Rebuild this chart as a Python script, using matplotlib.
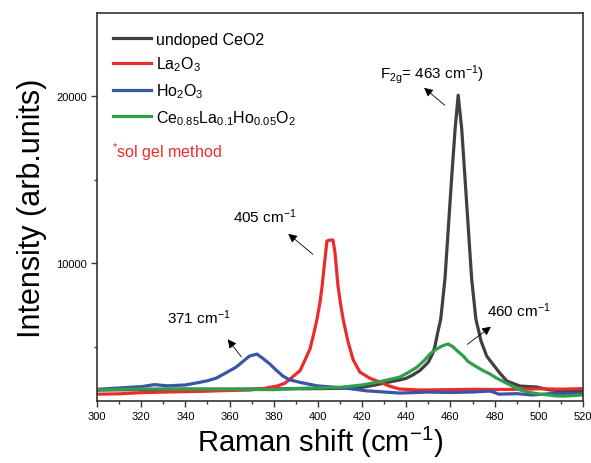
import matplotlib
matplotlib.use('Agg')
import matplotlib.pyplot as plt

plt.rcParams['font.family'] = ['Liberation Sans', 'DejaVu Sans']
plt.rcParams['mathtext.fontset'] = 'custom'
plt.rcParams['mathtext.rm'] = 'Liberation Sans'
plt.rcParams['mathtext.it'] = 'Liberation Sans:italic'
plt.rcParams['mathtext.bf'] = 'Liberation Sans:bold'
plt.rcParams['mathtext.default'] = 'regular'

# Raman shift (cm-1) and intensity
x_ceo2 = [300, 320, 340, 360, 380, 400, 410, 420, 426, 432, 437, 440, 443, 446, 448, 450,
          452, 453, 454, 455.6, 457.5, 459, 460.5, 462.1, 463.5, 465.1, 466.6, 468.1, 469.6,
          471.5, 473.8, 476.4, 478, 482, 485.5, 491.5, 499, 505, 512, 520]
y_ceo2 = [2400, 2420, 2450, 2450, 2470, 2480, 2500, 2560, 2700, 2870, 3000, 3100, 3300, 3550,
          3800, 4070, 4600, 5030, 5700, 6650, 9040, 12040, 15030, 18020, 20050, 18020, 15030,
          12040, 9040, 6650, 5350, 4430, 4150, 3470, 2935, 2635, 2575, 2400, 2340, 2330]

x_la = [300, 310, 320, 330, 340, 350, 360, 369, 375, 381.5, 385, 387.4, 390, 391.9, 394,
        396.4, 398, 399.6, 401, 401.9, 403.2, 404.1, 405.5, 406.8, 407.7, 409.1, 410.2, 411.4,
        413.6, 416, 419, 423.6, 428, 432, 437, 446, 460, 470, 480, 490, 500, 510, 520]
y_la = [2150, 2170, 2240, 2275, 2300, 2330, 2370, 2395, 2480, 2635, 2800, 3055, 3350, 3550,
        4150, 4850, 5700, 6650, 7700, 8620, 10240, 11320, 11380, 11380, 10660, 8620, 7600,
        6650, 5300, 4200, 3470, 3100, 2875, 2650, 2455, 2400, 2420, 2440, 2430, 2440, 2470,
        2450, 2480]

x_ho = [300, 310, 320, 326, 332, 340, 345, 350, 354, 358, 363, 366, 369, 372.4, 375, 378.3,
        381, 384.2, 387, 391.9, 399.6, 406.8, 414.5, 422, 437, 450, 460, 470, 478, 482, 490,
        497, 505, 512, 520]
y_ho = [2440, 2520, 2600, 2720, 2650, 2700, 2820, 2950, 3110, 3400, 3770, 4100, 4430, 4550,
        4300, 3950, 3600, 3230, 3020, 2856, 2650, 2575, 2480, 2350, 2215, 2275, 2250, 2280,
        2335, 2150, 2180, 2100, 2180, 2200, 2200]

x_mix = [300, 310, 320, 340, 360, 380, 391.9, 400, 410, 420, 428, 437, 441, 444.9, 448,
         450.7, 453, 455.3, 457, 459, 461, 463, 465.8, 468, 471, 474.9, 478, 481, 484, 487,
         489, 491.5, 495, 500.5, 505, 508, 512, 518.7, 520]
y_mix = [2395, 2440, 2455, 2460, 2440, 2420, 2500, 2520, 2556, 2700, 2895, 3170, 3450, 3770,
         4150, 4550, 4800, 4970, 5080, 5150, 5000, 4750, 4430, 4100, 3850, 3550, 3350, 3100,
         2900, 2700, 2575, 2400, 2275, 2150, 2095, 2040, 2035, 2095, 2100]

fig = plt.figure(figsize=(5.91, 4.64), dpi=100)
ax = fig.add_axes([0.1641, 0.1336, 0.8224, 0.8362])

lw = 2.3
ax.plot(x_ceo2, y_ceo2, color='#404040', lw=lw, label='undoped CeO2')
ax.plot(x_la, y_la, color='#ec2c2c', lw=lw, label='La$_2$O$_3$')
ax.plot(x_ho, y_ho, color='#3b55a6', lw=lw, label='Ho$_2$O$_3$')
ax.plot(x_mix, y_mix, color='#2e9f4a', lw=lw,
        label='Ce$_{0.85}$La$_{0.1}$Ho$_{0.05}$O$_2$')

ax.set_xlim(300, 520)
ax.set_ylim(1740, 24970)
ax.set_xticks(range(300, 521, 20))
ax.set_xticks(range(310, 520, 20), minor=True)
ax.set_yticks([10000, 20000])
ax.set_yticks([5000, 15000], minor=True)
ax.tick_params(which='major', direction='out', length=4, width=1, labelsize=8, pad=3,
               color='#333333')
ax.tick_params(which='minor', direction='out', length=2.5, width=1, color='#333333')
for s in ax.spines.values():
    s.set_linewidth(1.2)
    s.set_color('#333333')

ax.set_xlabel('Raman shift (cm$^{-1}$)', fontsize=21)
ax.xaxis.set_label_coords(0.46, -0.058)
ax.set_ylabel('Intensity (arb.units)', fontsize=22, labelpad=7)

leg = ax.legend(loc='upper left', bbox_to_anchor=(0.032, 0.952), frameon=False,
                fontsize=11.5, handlelength=2.4, handletextpad=0.3, labelspacing=0.5,
                borderpad=0, borderaxespad=0)

ax.text(0.03, 0.645, '$^{*}$sol gel method', transform=ax.transAxes, color='#ec2c2c',
        fontsize=11.5, va='center', ha='left')

# peak labels with arrows
arrow = dict(arrowstyle='-|>', color='black', lw=0.6, mutation_scale=13)
ax.annotate('', xy=(447.1, 20600), xytext=(458.4, 19340), arrowprops=arrow)
ax.text(428.1, 21078, 'F$_{2g}$= 463 cm$^{-1}$)', fontsize=11, va='baseline', ha='left')
ax.annotate('', xy=(385.6, 11856), xytext=(398.7, 10420), arrowprops=arrow)
ax.text(361.6, 12455, '405 cm$^{-1}$', fontsize=11, va='baseline', ha='left')
ax.annotate('', xy=(358.4, 5569), xytext=(366.1, 4251), arrowprops=arrow)
ax.text(331.7, 6407, '371 cm$^{-1}$', fontsize=11, va='baseline', ha='left')
ax.annotate('', xy=(479.3, 6287), xytext=(466.6, 5030), arrowprops=arrow)
ax.text(476.5, 6826, '460 cm$^{-1}$', fontsize=11, va='baseline', ha='left')

fig.savefig('out.png', dpi=100)
